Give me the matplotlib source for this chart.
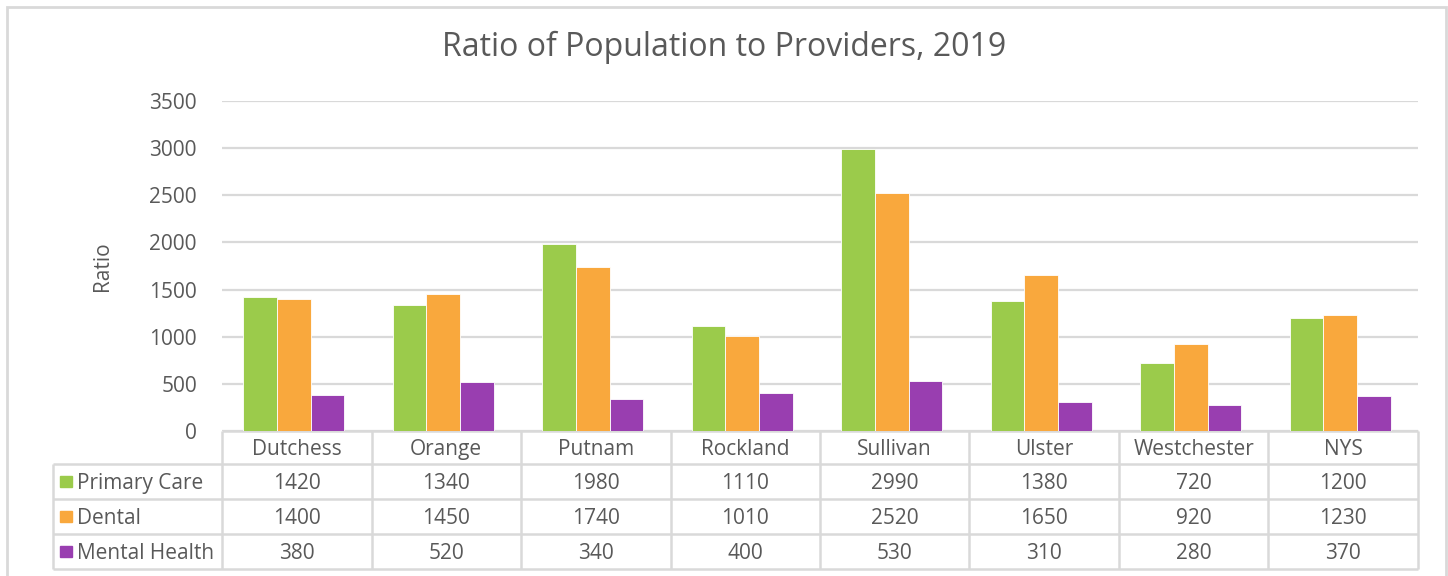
import numpy as np
import matplotlib.pyplot as plt
import matplotlib.transforms as mtransforms
from matplotlib.patches import Rectangle

plt.rcParams['font.family'] = ['Open Sans', 'DejaVu Sans']

counties = ['Dutchess', 'Orange', 'Putnam', 'Rockland', 'Sullivan', 'Ulster', 'Westchester', 'NYS']
series = ['Primary Care', 'Dental', 'Mental Health']
primary = [1420, 1340, 1980, 1110, 2990, 1380, 720, 1200]
dental = [1400, 1450, 1740, 1010, 2520, 1650, 920, 1230]
mental = [380, 520, 340, 400, 530, 310, 280, 370]
colors = ['#9bcb4b', '#f9a83d', '#993eb0']
txt = '#595959'
grid = '#d9d9d9'

W, H = 1448, 576
fig = plt.figure(figsize=(W / 100, H / 100), dpi=100)
# outer chart frame
fig.patches.append(Rectangle((7 / W, -0.02), (1446 - 7) / W, 1.02 - 7 / H,
                             transform=fig.transFigure, fill=False,
                             edgecolor=grid, lw=2))

ax = fig.add_axes([222 / W, (H - 431) / H, 1196 / W, 330 / H])
x = np.arange(len(counties)) - 0.02
bw = 0.225
for k, vals in enumerate([primary, dental, mental]):
    ax.bar(x + (k - 1) * bw, vals, bw, color=colors[k], edgecolor='white', lw=0.6, zorder=3)

ax.set_xlim(-0.5, len(counties) - 0.5)
ax.set_ylim(0, 3500)
ax.set_yticks(np.arange(0, 3501, 500))
ax.yaxis.grid(True, color=grid, lw=1.6, zorder=0)
ax.tick_params(axis='y', length=0, pad=18, labelsize=15, labelcolor=txt)
ax.set_xticks([])
for s in ax.spines.values():
    s.set_visible(False)
ax.set_ylabel('Ratio', fontsize=15, color=txt, labelpad=26)
fig.text(0.5, 1 - 47 / H, 'Ratio of Population to Providers, 2019',
         ha='center', va='center', fontsize=23, color=txt)

# data table below the axis
tr = mtransforms.blended_transform_factory(ax.transData, ax.transAxes)
hdr = -0.1
rh = 0.106
rows_y = [hdr - rh * i for i in range(4)]
left = -0.5 - 169 / 149.5
right = len(counties) - 0.5
lk = dict(color=grid, lw=1.8, transform=tr, clip_on=False, solid_capstyle='butt')
ax.plot([-0.5, right], [0, 0], **lk)
for yy in rows_y:
    ax.plot([left, right], [yy, yy], **lk)
ax.plot([left, left], [rows_y[0], rows_y[-1]], **lk)
for b in np.arange(-0.5, right + 0.01, 1.0):
    ax.plot([b, b], [0, rows_y[-1]], **lk)

for i, c in enumerate(counties):
    ax.text(i, hdr / 2 - 0.005, c, transform=tr, ha='center', va='center',
            fontsize=15, color=txt)
for r, (name, vals) in enumerate(zip(series, [primary, dental, mental])):
    yc = rows_y[r] - rh / 2
    ax.add_patch(Rectangle((-0.5 - 162 / 149.5, yc - 0.017), 12 / 149.5, 0.034,
                           transform=tr, color=colors[r], clip_on=False))
    ax.text(-0.5 - 145 / 149.5, yc - 0.005, name, transform=tr, ha='left', va='center',
            fontsize=15, color=txt)
    for i, v in enumerate(vals):
        ax.text(i, yc - 0.005, str(v), transform=tr, ha='center', va='center',
                fontsize=15, color=txt)

fig.savefig('out.png', dpi=100)
